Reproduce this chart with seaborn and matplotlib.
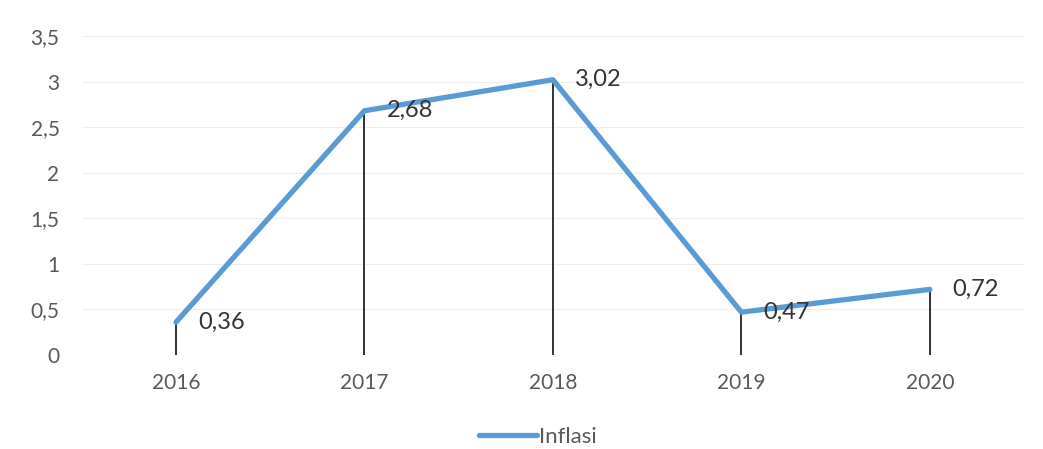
import numpy as np
import pandas as pd
import matplotlib
matplotlib.use("Agg")
import matplotlib.pyplot as plt
import seaborn as sns

years = ["2016", "2017", "2018", "2019", "2020"]
inflasi = [0.36, 2.68, 3.02, 0.47, 0.72]
y_ticks = [0, 0.5, 1, 1.5, 2, 2.5, 3, 3.5]
series_name = "Inflasi"

sns.set_theme(style="white")
plt.rcParams["font.family"] = ["Lato", "DejaVu Sans"]

df = pd.DataFrame({"pos": np.arange(len(years)), "value": inflasi, "series": series_name})

fig = plt.figure(figsize=(10.43, 4.49), dpi=100)
ax = fig.add_axes([0.0784, 0.2094, 0.9034, 0.7104])

blue = "#5B9BD5"
grey_text = "#595959"

# faint horizontal gridlines
for t in y_ticks[1:]:
    ax.axhline(t, color="#EDEDED", lw=0.8, zorder=0)

# drop lines from each point to the baseline
ax.vlines(df["pos"], 0, df["value"], color="#222222", lw=1.3, zorder=2)

sns.lineplot(data=df, x="pos", y="value", hue="series", palette=[blue],
             linewidth=3.8, ax=ax, legend=False, zorder=3)

for x, v in zip(df["pos"], df["value"]):
    ax.annotate(f"{v:.2f}".replace(".", ","), (x, v), xytext=(16, 0),
                textcoords="offset points", ha="left", va="center",
                fontsize=17, color="#333333", zorder=4)

ax.set_xlim(-0.5, len(years) - 0.5)
ax.set_ylim(0, 3.5)
ax.set_xticks(df["pos"])
ax.set_xticklabels(years)
ax.set_yticks(y_ticks)
ax.set_yticklabels([f"{t:g}".replace(".", ",") for t in y_ticks])
ax.tick_params(axis="both", length=0, labelsize=15, labelcolor=grey_text)
ax.tick_params(axis="x", pad=13)
ax.tick_params(axis="y", pad=16)
ax.set_xlabel("")
ax.set_ylabel("")
for s in ax.spines.values():
    s.set_visible(False)

handle = plt.Line2D([], [], color=blue, lw=3.8)
fig.legend([handle], [series_name], loc="center", bbox_to_anchor=(0.516, 0.027),
           frameon=False, fontsize=16, handlelength=2.6, handletextpad=0.1,
           labelcolor=grey_text)

fig.savefig("out.png", dpi=100, facecolor="white")
